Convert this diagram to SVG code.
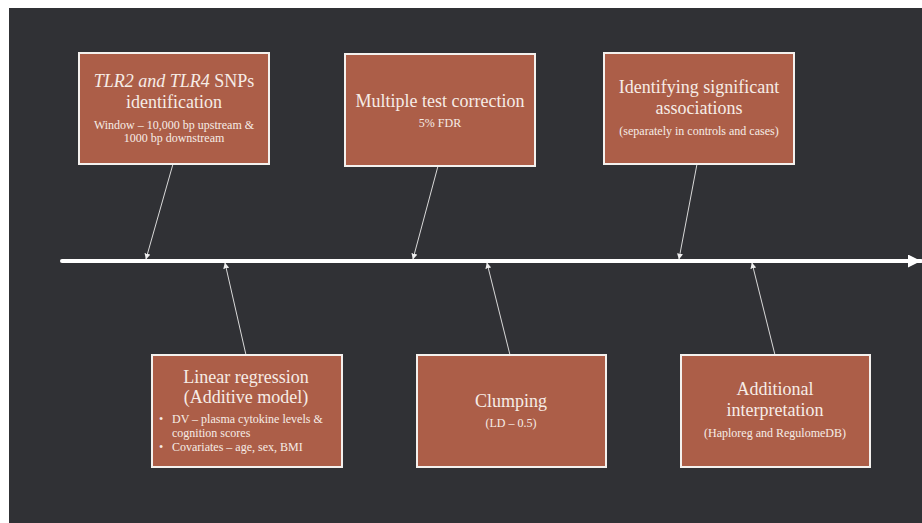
<svg xmlns="http://www.w3.org/2000/svg" width="922" height="523" viewBox="0 0 922 523">
<defs>
<style>
.box{fill:#ac5e48;stroke:#f4f1ee;stroke-width:2}
.h{font-family:"Liberation Serif","DejaVu Serif",serif;font-size:18px;fill:#f6ece6;text-anchor:middle}
.s{font-family:"Liberation Serif","DejaVu Serif",serif;font-size:12px;fill:#f6ece6;text-anchor:middle}
.b{font-family:"Liberation Serif","DejaVu Serif",serif;font-size:12px;fill:#f6ece6}
.c{stroke:#d9d9d9;stroke-width:1;fill:none;marker-end:url(#sa)}
</style>
<marker id="sa" viewBox="0 0 10 10" refX="9" refY="5" markerWidth="6" markerHeight="6" markerUnits="userSpaceOnUse" orient="auto">
<path d="M0,0 L10,5 L0,10 z" fill="#eeeeee"/>
</marker>
<marker id="ba" viewBox="0 0 10 10" refX="10" refY="5" markerWidth="13" markerHeight="13" markerUnits="userSpaceOnUse" orient="auto">
<path d="M0,0 L10,5 L0,10 z" fill="#ffffff"/>
</marker>
</defs>
<rect x="0" y="0" width="922" height="523" fill="#ffffff"/>
<rect x="9" y="8" width="913" height="515" fill="#303135"/>
<g id="connectors">
<line x1="62" y1="261" x2="921" y2="261" stroke="#ffffff" stroke-width="4" stroke-linecap="round" marker-end="url(#ba)"/>
<line class="c" x1="173" y1="164" x2="146" y2="259"/>
<line class="c" x1="438" y1="166" x2="413" y2="259"/>
<line class="c" x1="697" y1="164" x2="679" y2="259"/>
<line class="c" x1="246" y1="355" x2="225" y2="263"/>
<line class="c" x1="510" y1="355" x2="487" y2="263"/>
<line class="c" x1="775" y1="355" x2="752" y2="263"/>
</g>
<g id="snps">
<rect class="box" x="79" y="53" width="190" height="111"/>
<text class="h" x="174" y="87"><tspan font-style="italic">TLR2 and TLR4</tspan> SNPs</text>
<text class="h" x="174" y="108">identification</text>
<text class="s" x="174" y="129">Window – 10,000 bp upstream &amp;</text>
<text class="s" x="174" y="142">1000 bp downstream</text>
</g>
<g id="mtc">
<rect class="box" x="345" y="54" width="190" height="112"/>
<text class="h" x="440" y="107">Multiple test correction</text>
<text class="s" x="440" y="127">5% FDR</text>
</g>
<g id="isa">
<rect class="box" x="604" y="53" width="190" height="111"/>
<text class="h" x="699" y="93">Identifying significant</text>
<text class="h" x="699" y="114">associations</text>
<text class="s" x="699" y="135">(separately in controls and cases)</text>
</g>
<g id="linreg">
<rect class="box" x="152" y="355" width="190" height="112"/>
<text class="h" x="246" y="383">Linear regression</text>
<text class="h" x="246" y="403">(Additive model)</text>
<text class="b" x="159" y="423">•</text>
<text class="b" x="172" y="423">DV – plasma cytokine levels &amp;</text>
<text class="b" x="172" y="437">cognition scores</text>
<text class="b" x="159" y="451">•</text>
<text class="b" x="172" y="451">Covariates – age, sex, BMI</text>
</g>
<g id="clumping">
<rect class="box" x="417" y="355" width="189" height="112"/>
<text class="h" x="511" y="407">Clumping</text>
<text class="s" x="511" y="427">(LD – 0.5)</text>
</g>
<g id="additional">
<rect class="box" x="681" y="355" width="189" height="112"/>
<text class="h" x="775" y="395">Additional</text>
<text class="h" x="775" y="416">interpretation</text>
<text class="s" x="775" y="437">(Haploreg and RegulomeDB)</text>
</g>
</svg>
